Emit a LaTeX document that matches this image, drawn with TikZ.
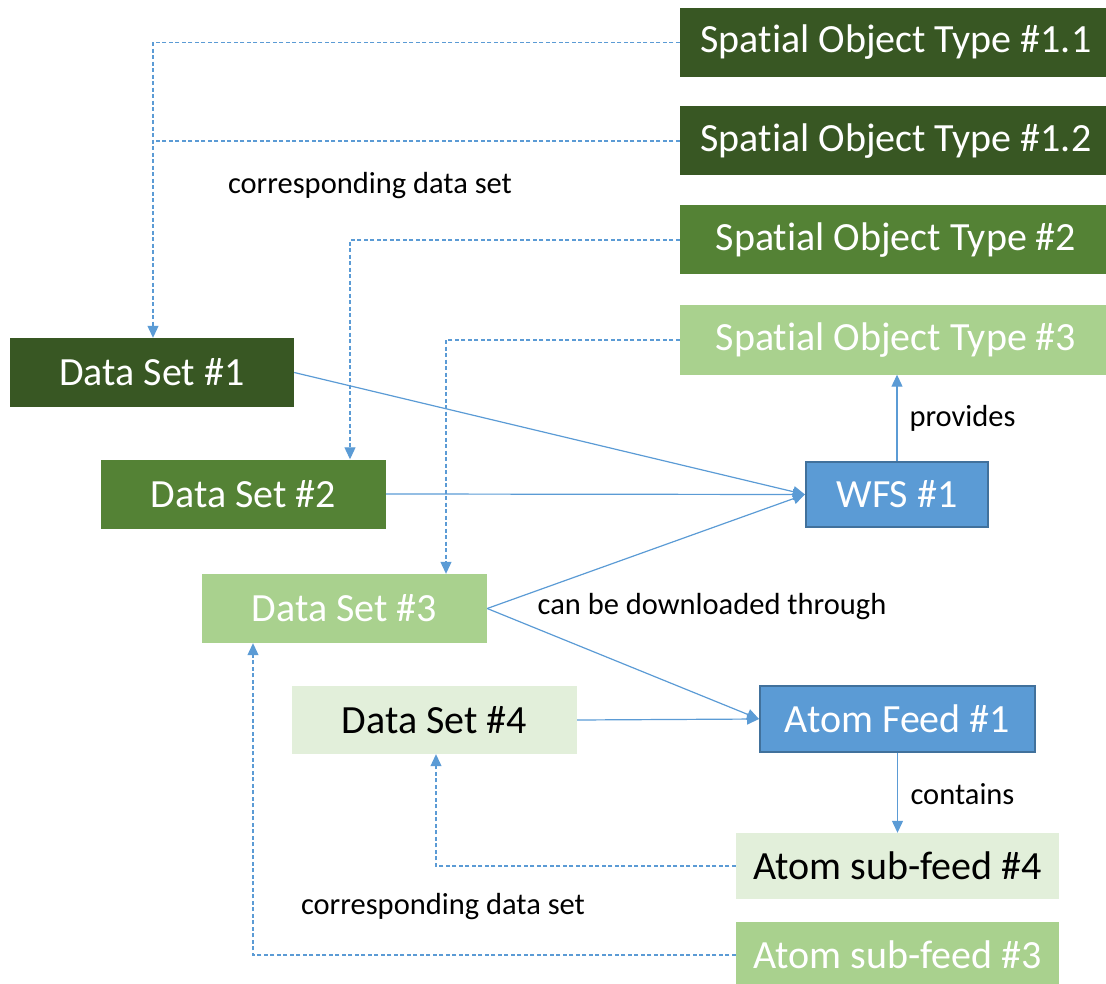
\documentclass[tikz,border=0pt]{standalone}
\usepackage{fontspec}
\setmainfont{Carlito}[Ligatures=NoCommon]
\usetikzlibrary{arrows.meta,calc}
\definecolor{gdark}{HTML}{385723}
\definecolor{gmid}{HTML}{548235}
\definecolor{glight}{HTML}{A9D18E}
\definecolor{gpale}{HTML}{E2EFDA}
\definecolor{bfill}{HTML}{5B9BD5}
\definecolor{bedge}{HTML}{41719C}
\definecolor{lblue}{HTML}{5B9BD5}
\begin{document}
\begin{tikzpicture}[x=1pt,y=-1pt,
  box/.style={rectangle, inner sep=0pt, text=white, font=\fontsize{40}{47}\selectfont},
  bluebox/.style={box, fill=bfill, draw=bedge, line width=2pt},
  lbl/.style={font=\fontsize{30.5}{36}\selectfont, text=black, inner sep=0pt},
  conn/.style={draw=lblue, line width=1.2pt, -{Triangle[length=12pt,width=11pt]}},
  dconn/.style={draw=lblue, line width=1.1pt, dash pattern=on 4pt off 2.5pt},
  dtip/.style={dconn, -{Triangle[length=12pt,width=11pt]}}]
\useasboundingbox (0,0) rectangle (1106,984);
% spatial object types
\node[box, fill=gdark, minimum width=432, minimum height=69] (sot11) at (896,42.5) {Spatial Object Type \#1.1};
\node[box, fill=gdark, minimum width=432, minimum height=69] (sot12) at (896,141) {Spatial Object Type \#1.2};
\node[box, fill=gmid, minimum width=432, minimum height=69] (sot2) at (896,240) {Spatial Object Type \#2};
\node[box, fill=glight, minimum width=432, minimum height=69] (sot3) at (896,340) {Spatial Object Type \#3};
% data sets
\node[box, fill=gdark, minimum width=284, minimum height=69] (ds1) at (152,372.5) {Data Set \#1};
\node[box, fill=gmid, minimum width=285, minimum height=69] (ds2) at (243.5,494) {Data Set \#2};
\node[box, fill=glight, minimum width=285, minimum height=69] (ds3) at (344.5,608.5) {Data Set \#3};
\node[box, fill=gpale, text=black, minimum width=285, minimum height=68] (ds4) at (434.5,720) {Data Set \#4};
% services
\node[bluebox, minimum width=182, minimum height=65] (wfs) at (897,494.5) {WFS \#1};
\node[bluebox, minimum width=275, minimum height=66] (af) at (897.5,719) {Atom Feed \#1};
\node[box, fill=gpale, text=black, minimum width=323, minimum height=66] (sub4) at (897.5,866) {Atom sub-feed \#4};
\node[box, fill=glight, minimum width=323, minimum height=66] (sub3) at (897.5,955) {Atom sub-feed \#3};
% labels
\node[lbl] (l1) at (370,186) {corresponding data set};
\node[lbl] (l2) at (962.5,418) {provides};
\node[lbl] (l3) at (712,607) {can be downloaded through};
\node[lbl] (l4) at (962.5,794) {contains};
\node[lbl] (l5) at (443,907) {corresponding data set};
% dashed correspondences
\draw[dtip] (sot11.west) -| ([xshift=1pt]ds1.north);
\draw[dconn] (sot12.west) -- ([xshift=1pt]ds1.north |- sot12.west);
\draw[dtip] (sot2.west) -| ([xshift=106.5pt]ds2.north);
\draw[dtip] (sot3.west) -| ([xshift=101.5pt]ds3.north);
\draw[dtip] (sub4.west) -| ([xshift=1.5pt]ds4.south);
\draw[dtip] (sub3.west) -| ([xshift=-91.5pt]ds3.south);
% solid connectors
\draw[conn] (ds1.east) -- (wfs.west);
\draw[conn] (ds2.east) -- (wfs.west);
\draw[conn] (ds3.east) -- (wfs.west);
\draw[conn] (ds3.east) -- (af.west);
\draw[conn] (ds4.east) -- (af.west);
\draw[conn] (wfs.north) -- (wfs.north |- sot3.south);
\draw[conn] (af.south) -- (af.south |- sub4.north);
\end{tikzpicture}
\end{document}
